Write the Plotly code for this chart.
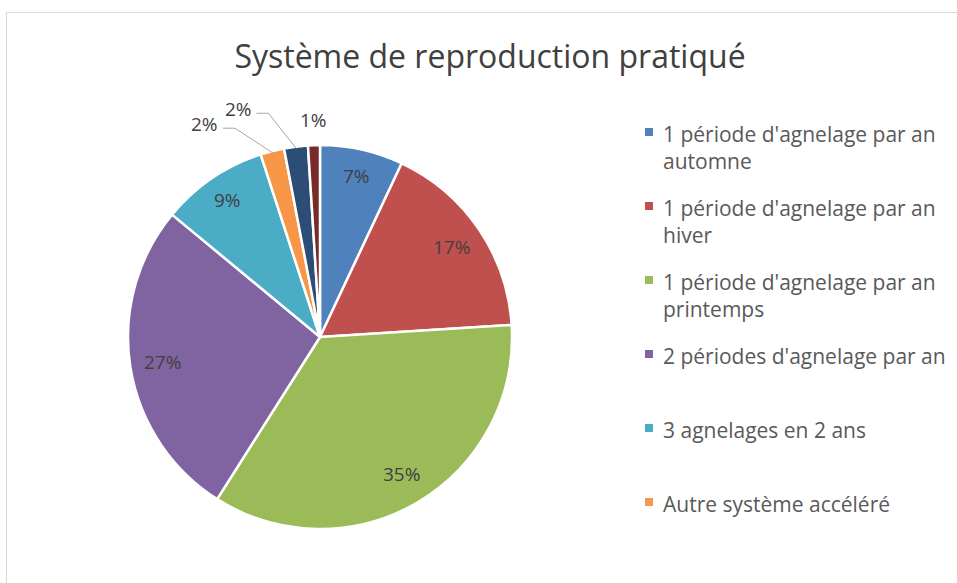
import math
import plotly.graph_objects as go

# ---- data ----
categories = [
    "1 période d'agnelage par an automne",
    "1 période d'agnelage par an hiver",
    "1 période d'agnelage par an printemps",
    "2 périodes d'agnelage par an",
    "3 agnelages en 2 ans",
    "Autre système accéléré",
    "Autre système",
    "Sans réponse",
]
legend_labels = [
    "1 période d'agnelage par an<br>automne",
    "1 période d'agnelage par an<br>hiver",
    "1 période d'agnelage par an<br>printemps",
    "2 périodes d'agnelage par an",
    "3 agnelages en 2 ans",
    "Autre système accéléré",
]
values = [7, 17, 35, 27, 9, 2, 2, 1]
colors = ["#4F81BD", "#C0504D", "#9BBB59", "#8064A2", "#4BACC6", "#F79646", "#2C4D75", "#772C2A"]
title_text = "Système de reproduction pratiqué"

# ---- layout params (page pixels) ----
W, H = 957, 583
CX, CY, R = 320, 337, 192
FONT = "Open Sans"
TXT = "#404040"
LEG = "#595959"


def px(x, y):
    return x / W, 1 - y / H


dx0, dy0 = px(CX - R, CY + R)
dx1, dy1 = px(CX + R, CY - R)
fig = go.Figure(go.Pie(
    labels=categories, values=values, sort=False, direction="clockwise", rotation=0,
    marker=dict(colors=colors, line=dict(color="white", width=2.5)),
    textinfo="none", showlegend=False, hoverinfo="label+percent",
    domain=dict(x=[dx0, dx1], y=[dy0, dy1]),
))

total = sum(values)
cum = 0
annotations = []
shapes = []
outside_cfg = {5: (-14.0, 1.26), 6: (-12.5, 1.26), 7: (0.0, 1.13)}
for i, v in enumerate(values):
    mid = (cum + v / 2) / total * 360
    cum += v
    pct = f"{round(v / total * 100)}%"
    if i in outside_cfg:
        shift, rf = outside_cfg[i]
        a = math.radians(mid + shift)
        lx, ly = CX + rf * R * math.sin(a), CY - rf * R * math.cos(a)
        x, y = px(lx, ly)
        annotations.append(dict(x=x, y=y, xref="paper", yref="paper", text=pct, showarrow=False,
                                xanchor="center", yanchor="middle",
                                font=dict(family=FONT, size=19, color=TXT)))
        if shift != 0:
            am = math.radians(mid)
            ex, ey = CX + 0.99 * R * math.sin(am), CY - 0.99 * R * math.cos(am)
            sx, sy = lx + 18, ly + 4
            p0, p1, p2 = px(sx, sy), px(sx + 12, sy), px(ex, ey)
            path = f"M {p0[0]} {p0[1]} L {p1[0]} {p1[1]} L {p2[0]} {p2[1]}"
            shapes.append(dict(type="path", xref="paper", yref="paper", path=path,
                               line=dict(color="#A6A6A6", width=1)))
    else:
        a = math.radians(mid)
        rf = 0.86 if v < 10 else 0.83
        lx, ly = CX + rf * R * math.sin(a), CY - rf * R * math.cos(a)
        x, y = px(lx, ly)
        annotations.append(dict(x=x, y=y, xref="paper", yref="paper", text=pct, showarrow=False,
                                xanchor="center", yanchor="middle",
                                font=dict(family=FONT, size=19, color=TXT)))

# custom legend (truncated like the original)
LX, LY0, LSTEP = 645, 118, 74
for i, lab in enumerate(legend_labels):
    y_top = LY0 + i * LSTEP
    a0 = px(LX, y_top + 10)
    a1 = px(LX + 8, y_top + 18)
    shapes.append(dict(type="rect", xref="paper", yref="paper",
                       x0=a0[0], x1=a1[0], y0=a1[1], y1=a0[1],
                       fillcolor=colors[i], line=dict(width=0)))
    tx, ty = px(LX + 16, y_top)
    annotations.append(dict(x=tx, y=ty, xref="paper", yref="paper",
                            xanchor="left", yanchor="top", align="left", text=lab, showarrow=False,
                            font=dict(family=FONT, size=21, color=LEG)))

# chart frame
f0 = px(6.5, 12.5)
shapes.append(dict(type="rect", xref="paper", yref="paper", x0=f0[0], x1=1.02, y0=-0.02, y1=f0[1],
                   line=dict(color="#D9D9D9", width=1), fillcolor="rgba(0,0,0,0)"))

tx, ty = px(490, 57)
fig.update_layout(
    width=W, height=H, margin=dict(l=0, r=0, t=0, b=0),
    paper_bgcolor="white", plot_bgcolor="white",
    title=dict(text=title_text, x=tx, xanchor="center", y=ty, yanchor="middle",
               font=dict(family=FONT, size=32, color=TXT)),
    annotations=annotations, shapes=shapes,
)
fig.write_html("out.html", config={"displayModeBar": False},
               post_script="document.body.style.margin='0';document.body.style.overflow='hidden';")
